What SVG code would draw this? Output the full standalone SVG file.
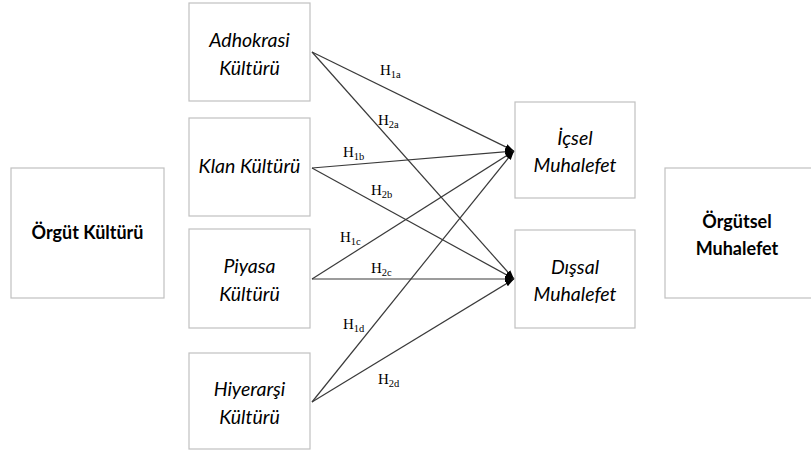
<svg xmlns="http://www.w3.org/2000/svg" width="811" height="453" viewBox="0 0 811 453">
<style>
.box{fill:#fff;stroke:#c0c0c0;stroke-width:1.2}
.bt{font-family:Lato,"Open Sans","Liberation Sans",sans-serif;font-weight:bold;font-size:18px;fill:#000;text-anchor:middle}
.it{font-family:Lato,"Open Sans","Liberation Sans",sans-serif;font-style:italic;font-size:19.5px;fill:#000;text-anchor:middle}
.cn{stroke:#3a3a3a;stroke-width:1.2;fill:none;marker-end:url(#ah)}
.hl{font-family:"Liberation Serif","Times New Roman",serif;font-size:15px;fill:#000}
.sb{font-size:10.5px}
</style>
<defs>
<marker id="ah" markerUnits="userSpaceOnUse" markerWidth="10" markerHeight="8" refX="9" refY="4" orient="auto">
<path d="M0,1 L9,4 L0,7 z" fill="#000"/>
</marker>
</defs>
<rect width="811" height="453" fill="#fff"/>
<g id="orgut-kulturu">
<rect class="box" x="11" y="168" width="153" height="130"/>
<text class="bt" x="87.5" y="239">Örgüt Kültürü</text>
</g>
<g id="adhokrasi">
<rect class="box" x="189" y="3" width="121" height="98"/>
<text class="it" x="249.5" y="47">Adhokrasi</text>
<text class="it" x="249.5" y="75">Kültürü</text>
</g>
<g id="klan">
<rect class="box" x="189" y="118" width="121" height="98"/>
<text class="it" x="249.5" y="173">Klan Kültürü</text>
</g>
<g id="piyasa">
<rect class="box" x="189" y="229" width="121" height="99"/>
<text class="it" x="249.5" y="273">Piyasa</text>
<text class="it" x="249.5" y="301">Kültürü</text>
</g>
<g id="hiyerarsi">
<rect class="box" x="189" y="353" width="121" height="96"/>
<text class="it" x="249.5" y="396">Hiyerarşi</text>
<text class="it" x="249.5" y="424">Kültürü</text>
</g>
<g id="icsel">
<rect class="box" x="515" y="102" width="120" height="96"/>
<text class="it" x="575" y="145">İçsel</text>
<text class="it" x="575" y="172">Muhalefet</text>
</g>
<g id="dissal">
<rect class="box" x="515" y="230" width="120" height="98"/>
<text class="it" x="575" y="274">Dışsal</text>
<text class="it" x="575" y="301">Muhalefet</text>
</g>
<g id="orgutsel-muhalefet">
<rect class="box" x="665" y="168" width="160" height="130"/>
<text class="bt" x="737" y="228">Örgütsel</text>
<text class="bt" x="737" y="255">Muhalefet</text>
</g>
<g id="connectors">
<line class="cn" x1="312" y1="52" x2="514" y2="151"/>
<line class="cn" x1="312" y1="52" x2="514" y2="279"/>
<line class="cn" x1="312" y1="168" x2="514" y2="151"/>
<line class="cn" x1="312" y1="168" x2="514" y2="279"/>
<line class="cn" x1="312" y1="279" x2="514" y2="151"/>
<line class="cn" x1="312" y1="279" x2="514" y2="279"/>
<line class="cn" x1="312" y1="402" x2="514" y2="151"/>
<line class="cn" x1="312" y1="402" x2="514" y2="279"/>
</g>
<g id="labels">
<text class="hl" x="380" y="75">H<tspan class="sb" dy="3">1a</tspan></text>
<text class="hl" x="378" y="125">H<tspan class="sb" dy="3">2a</tspan></text>
<text class="hl" x="343" y="157">H<tspan class="sb" dy="3">1b</tspan></text>
<text class="hl" x="371" y="195">H<tspan class="sb" dy="3">2b</tspan></text>
<text class="hl" x="340" y="242">H<tspan class="sb" dy="3">1c</tspan></text>
<text class="hl" x="371" y="273">H<tspan class="sb" dy="3">2c</tspan></text>
<text class="hl" x="343" y="329">H<tspan class="sb" dy="3">1d</tspan></text>
<text class="hl" x="378" y="384">H<tspan class="sb" dy="3">2d</tspan></text>
</g>
</svg>
